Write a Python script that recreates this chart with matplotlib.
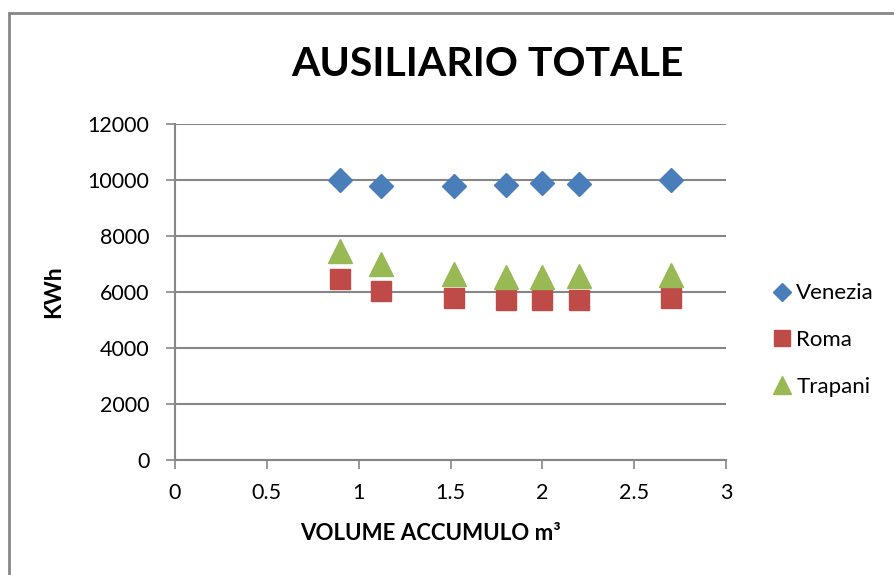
import matplotlib.pyplot as plt
from matplotlib.patches import Rectangle

# volume (m3) and auxiliary energy (kWh) per city
volume = [0.9, 1.12, 1.52, 1.8, 2.0, 2.2, 2.7]
venezia = [10000, 9770, 9780, 9820, 9880, 9870, 10000]
roma = [6450, 6050, 5770, 5725, 5725, 5725, 5770]
trapani = [7480, 7010, 6655, 6520, 6520, 6560, 6620]

COLOR_VENEZIA = '#4A7EBB'
COLOR_ROMA = '#BE4B48'
COLOR_TRAPANI = '#98B954'
GRAY = '#868686'

plt.rcParams['font.family'] = ['Lato', 'DejaVu Sans']

fig = plt.figure(figsize=(8.94, 5.75), dpi=100)
ax = fig.add_axes([175 / 894, 1 - 460 / 575, 551 / 894, 336 / 575])

ax.plot(volume, venezia, linestyle='none', marker='D', markersize=12,
        color=COLOR_VENEZIA, label='Venezia')
ax.plot(volume, roma, linestyle='none', marker='s', markersize=15,
        color=COLOR_ROMA, label='Roma')
ax.plot(volume, trapani, linestyle='none', marker='^', markersize=17,
        color=COLOR_TRAPANI, label='Trapani')

ax.set_xlim(0, 3)
ax.set_ylim(0, 12000)
ax.set_xticks([0, 0.5, 1, 1.5, 2, 2.5, 3])
ax.set_xticklabels(['0', '0.5', '1', '1.5', '2', '2.5', '3'])
ax.set_yticks(range(0, 12001, 2000))

ax.grid(True, axis='y', color=GRAY, linewidth=1.5)
ax.set_axisbelow(True)
for side in ['top', 'right']:
    ax.spines[side].set_visible(False)
for side in ['left', 'bottom']:
    ax.spines[side].set_color(GRAY)
    ax.spines[side].set_linewidth(1.5)
ax.tick_params(axis='both', colors=GRAY, length=6.5, width=1.2, labelsize=15.5,
               labelcolor='black')
ax.tick_params(axis='y', pad=12)
ax.tick_params(axis='x', pad=10)

ax.set_xlabel('VOLUME ACCUMULO m³', fontsize=16, fontweight='bold')
ax.xaxis.set_label_coords((430 - 175) / 551, -(533 - 460) / 336)
ax.set_ylabel('KWh', fontsize=16.5, fontweight='bold')
ax.yaxis.set_label_coords(-(175 - 54) / 551, 0.5)
ax.xaxis.label.set_va('center')
ax.yaxis.label.set_va('center')

fig.text(487 / 894, 1 - 65 / 575, 'AUSILIARIO TOTALE', fontsize=29.5,
         fontweight='bold', ha='center', va='center')

ax.legend(loc='center left', bbox_to_anchor=(1.045, 0.357), frameon=False,
          fontsize=16, handletextpad=0.15, labelspacing=1.2, markerscale=0.8,
          handlelength=1.0)

# chart area border
fig.patches.append(Rectangle((9 / 894, -0.1), 1.1, 1 - 13 / 575 + 0.1,
                             transform=fig.transFigure, fill=False,
                             edgecolor=GRAY, linewidth=2, clip_on=False))

fig.savefig('out.png', dpi=100)
